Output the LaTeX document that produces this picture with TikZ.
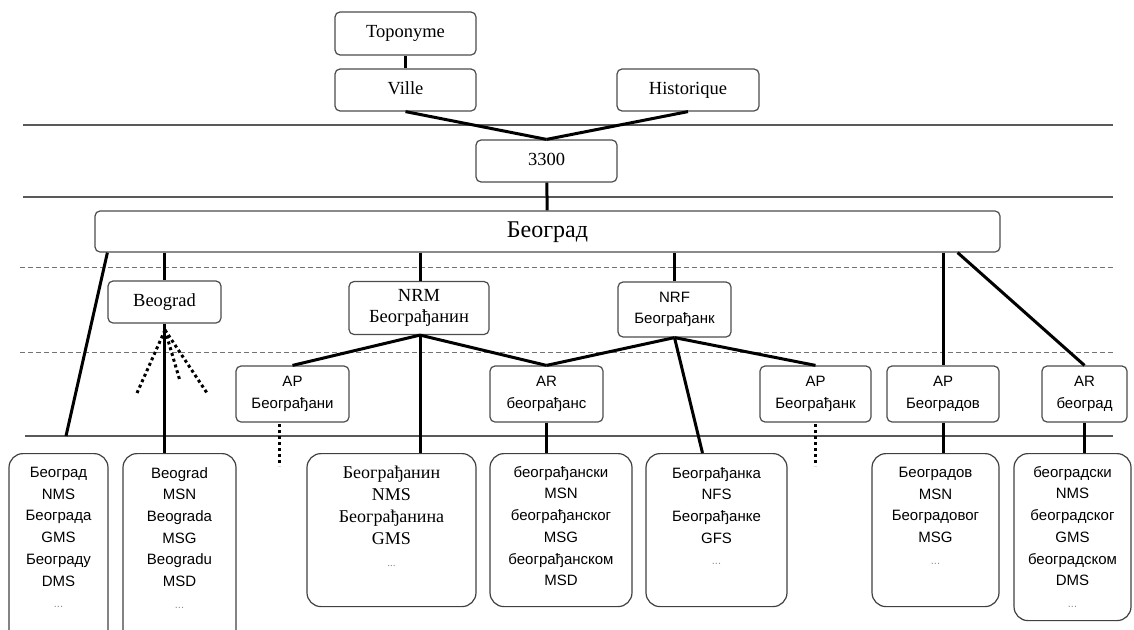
\documentclass[tikz,border=0pt]{standalone}
\usepackage{fontspec}
\setmainfont{Liberation Serif}
\setsansfont{Liberation Sans}
\usepackage{tikz}
\usetikzlibrary{positioning, calc}
\newcommand{\serifsize}{\rmfamily\fontsize{18.5}{21}\selectfont}
\newcommand{\sanssize}{\sffamily\fontsize{15}{21.7}\selectfont}
\newcommand{\cityfont}{\rmfamily\fontsize{24}{26}\selectfont}
\newcommand{\more}{{\color{black!45}\fontsize{11}{21.7}\selectfont...}}
\tikzstyle{tagbox} = [rectangle, rounded corners=5pt, draw=black!70, line width=1.2pt, align=center, inner sep=0pt, font=\serifsize]
\tikzstyle{toptag} = [tagbox, text height=12.5pt, text depth=4pt]
\tikzstyle{sansbox} = [tagbox, font=\sanssize]
\tikzstyle{cellbox} = [rectangle, rounded corners=14pt, draw=black!75, line width=1.2pt, inner sep=0pt, anchor=north]
\tikzstyle{celltext} = [align=center, inner sep=0pt, anchor=north, font=\sanssize]
\tikzstyle{link} = [line width=3pt]
\tikzstyle{dotlink} = [line width=3pt, dash pattern=on 3pt off 3pt]
\tikzstyle{tierline} = [line width=1.2pt, draw=black!65]
\tikzstyle{subtierline} = [line width=1pt, draw=black!55, dash pattern=on 5pt off 3pt]

\begin{document}
\begin{tikzpicture}[x=1pt, y=-1pt]
    \clip (0,0) rectangle (1134,629);

    % Tiers
    \draw[tierline] (23,125) -- (1113,125);
    \draw[tierline] (23,197) -- (1113,197);
    \draw[subtierline] (20,267) -- (1113,267);
    \draw[subtierline] (20,352) -- (1113,352);
    \draw[tierline] (25,436) -- (1113,436);

    % Top - concept
    \node[toptag, minimum width=141, minimum height=43] (topo) at (405.5,33.5) {Toponyme};
    \node[toptag, minimum width=141, minimum height=42] (ville) at (405.5,90) {Ville};
    \node[toptag, minimum width=142, minimum height=42] (hist) at (688,90) {Historique};
    \node[toptag, minimum width=141, minimum height=42] (n3300) at (546.5,161) {3300};

    % Lemma
    \node[tagbox, font=\cityfont, text height=16pt, text depth=5pt, minimum width=905, minimum height=41] (bg) at (547.5,231.5) {Београд};

    % Derived forms
    \node[toptag, minimum width=113, minimum height=42] (beo) at (164.5,302) {Beograd};
    \node[tagbox, minimum width=140, minimum height=53] (nrm) at (419,308) {NRM\\Београђанин};
    \node[sansbox, minimum width=113, minimum height=55] (nrf) at (674.5,309.5) {NRF\\Београђанк};

    % Adjectives
    \node[sansbox, minimum width=113, minimum height=56] (apa) at (292.5,394) {AP\\Београђани};
    \node[sansbox, minimum width=113, minimum height=56] (ars) at (546.5,394) {AR\\београђанс};
    \node[sansbox, minimum width=111, minimum height=56] (apk) at (815.5,394) {AP\\Београђанк};
    \node[sansbox, minimum width=112, minimum height=56] (apd) at (943,394) {AP\\Београдов};
    \node[sansbox, minimum width=85, minimum height=56] (arb) at (1084.5,394) {AR\\београд};

    % Inflected forms
    \node[cellbox, minimum width=99, minimum height=200] (c1) at (58.5,453) {};
    \node[cellbox, minimum width=113, minimum height=200] (c2) at (179.5,453) {};
    \node[cellbox, minimum width=169, minimum height=153] (c3) at (391.5,453) {};
    \node[cellbox, minimum width=142, minimum height=153] (c4) at (561,453) {};
    \node[cellbox, minimum width=141, minimum height=153] (c5) at (716.5,453) {};
    \node[cellbox, minimum width=127, minimum height=153] (c6) at (935.5,453) {};
    \node[cellbox, minimum width=117, minimum height=167] (c7) at (1072.5,453) {};
    \node[celltext, below=14pt of c1.north] (c1t) {Београд\\NMS\\Београда\\GMS\\Београду\\DMS\\\more};
    \node[celltext, below=14pt of c2.north] (c2t) {Beograd\\MSN\\Beograda\\MSG\\Beogradu\\MSD\\\more};
    \node[celltext, font=\rmfamily\fontsize{18}{22}\selectfont, below=13pt of c3.north] (c3t) {Београђанин\\NMS\\Београђанина\\GMS\\\more};
    \node[celltext, below=13pt of c4.north] (c4t) {београђански\\MSN\\београђанског\\MSG\\београђанском\\MSD};
    \node[celltext, below=14pt of c5.north] (c5t) {Београђанка\\NFS\\Београђанке\\GFS\\\more};
    \node[celltext, below=14pt of c6.north] (c6t) {Београдов\\MSN\\Београдовог\\MSG\\\more};
    \node[celltext, below=13pt of c7.north] (c7t) {београдски\\NMS\\београдског\\GMS\\београдском\\DMS\\\more};

    % Free ends
    \coordinate (leftfoot) at (66,436);
    \coordinate (fanroot) at (165,330);
    \coordinate (fan1) at (137,393);
    \coordinate (fan2) at (180,381);
    \coordinate (fan3) at (207,393);
    \coordinate (stuba) at (279,424);
    \coordinate (stubaend) at (279,466);
    \coordinate (stubk) at (815,424);
    \coordinate (stubkend) at (815,466);

    % Links - top
    \draw[link] (topo) -- (ville);
    \draw[link] (ville.south) -- (n3300.north);
    \draw[link] (hist.south) -- (n3300.north);
    \draw[link] (n3300) -- (bg);

    % Links - lemma
    \draw[link] ($(bg.south west)+(13,0)$) -- (leftfoot);
    \draw[link] (bg.south -| beo.north) -- (beo.north);
    \draw[link] (bg.south -| 420,0) -- (nrm.north -| 420,0);
    \draw[link] (bg.south -| nrf.north) -- (nrf.north);
    \draw[link] (bg.south -| apd.north) -- (apd.north);
    \draw[link] ($(bg.south east)+(-43,0)$) -- (arb.north);
    \draw[link] (beo.south) -- (c2.north -| beo.south);

    % Links - derived
    \draw[link] (nrm.south -| 420,0) -- (apa.north);
    \draw[link] (nrm.south -| 420,0) -- (ars.north);
    \draw[link] (nrm.south -| 420,0) -- (c3.north -| 420,0);
    \draw[link] (nrf.south) -- (ars.north);
    \draw[link] (nrf.south) -- (apk.north);
    \draw[link] (nrf.south) -- ($(c5.north)+(-14,0)$);
    \draw[link] (ars.south) -- (c4.north -| ars.south);
    \draw[link] (apd.south) -- (c6.north -| apd.south);
    \draw[link] (arb.south) -- (c7.north -| arb.south);

    % Dotted links
    \draw[dotlink] (fanroot) -- (fan1);
    \draw[dotlink] (fanroot) -- (fan2);
    \draw[dotlink] (fanroot) -- (fan3);
    \draw[dotlink] (stuba) -- (stubaend);
    \draw[dotlink] (stubk) -- (stubkend);
\end{tikzpicture}
\end{document}
